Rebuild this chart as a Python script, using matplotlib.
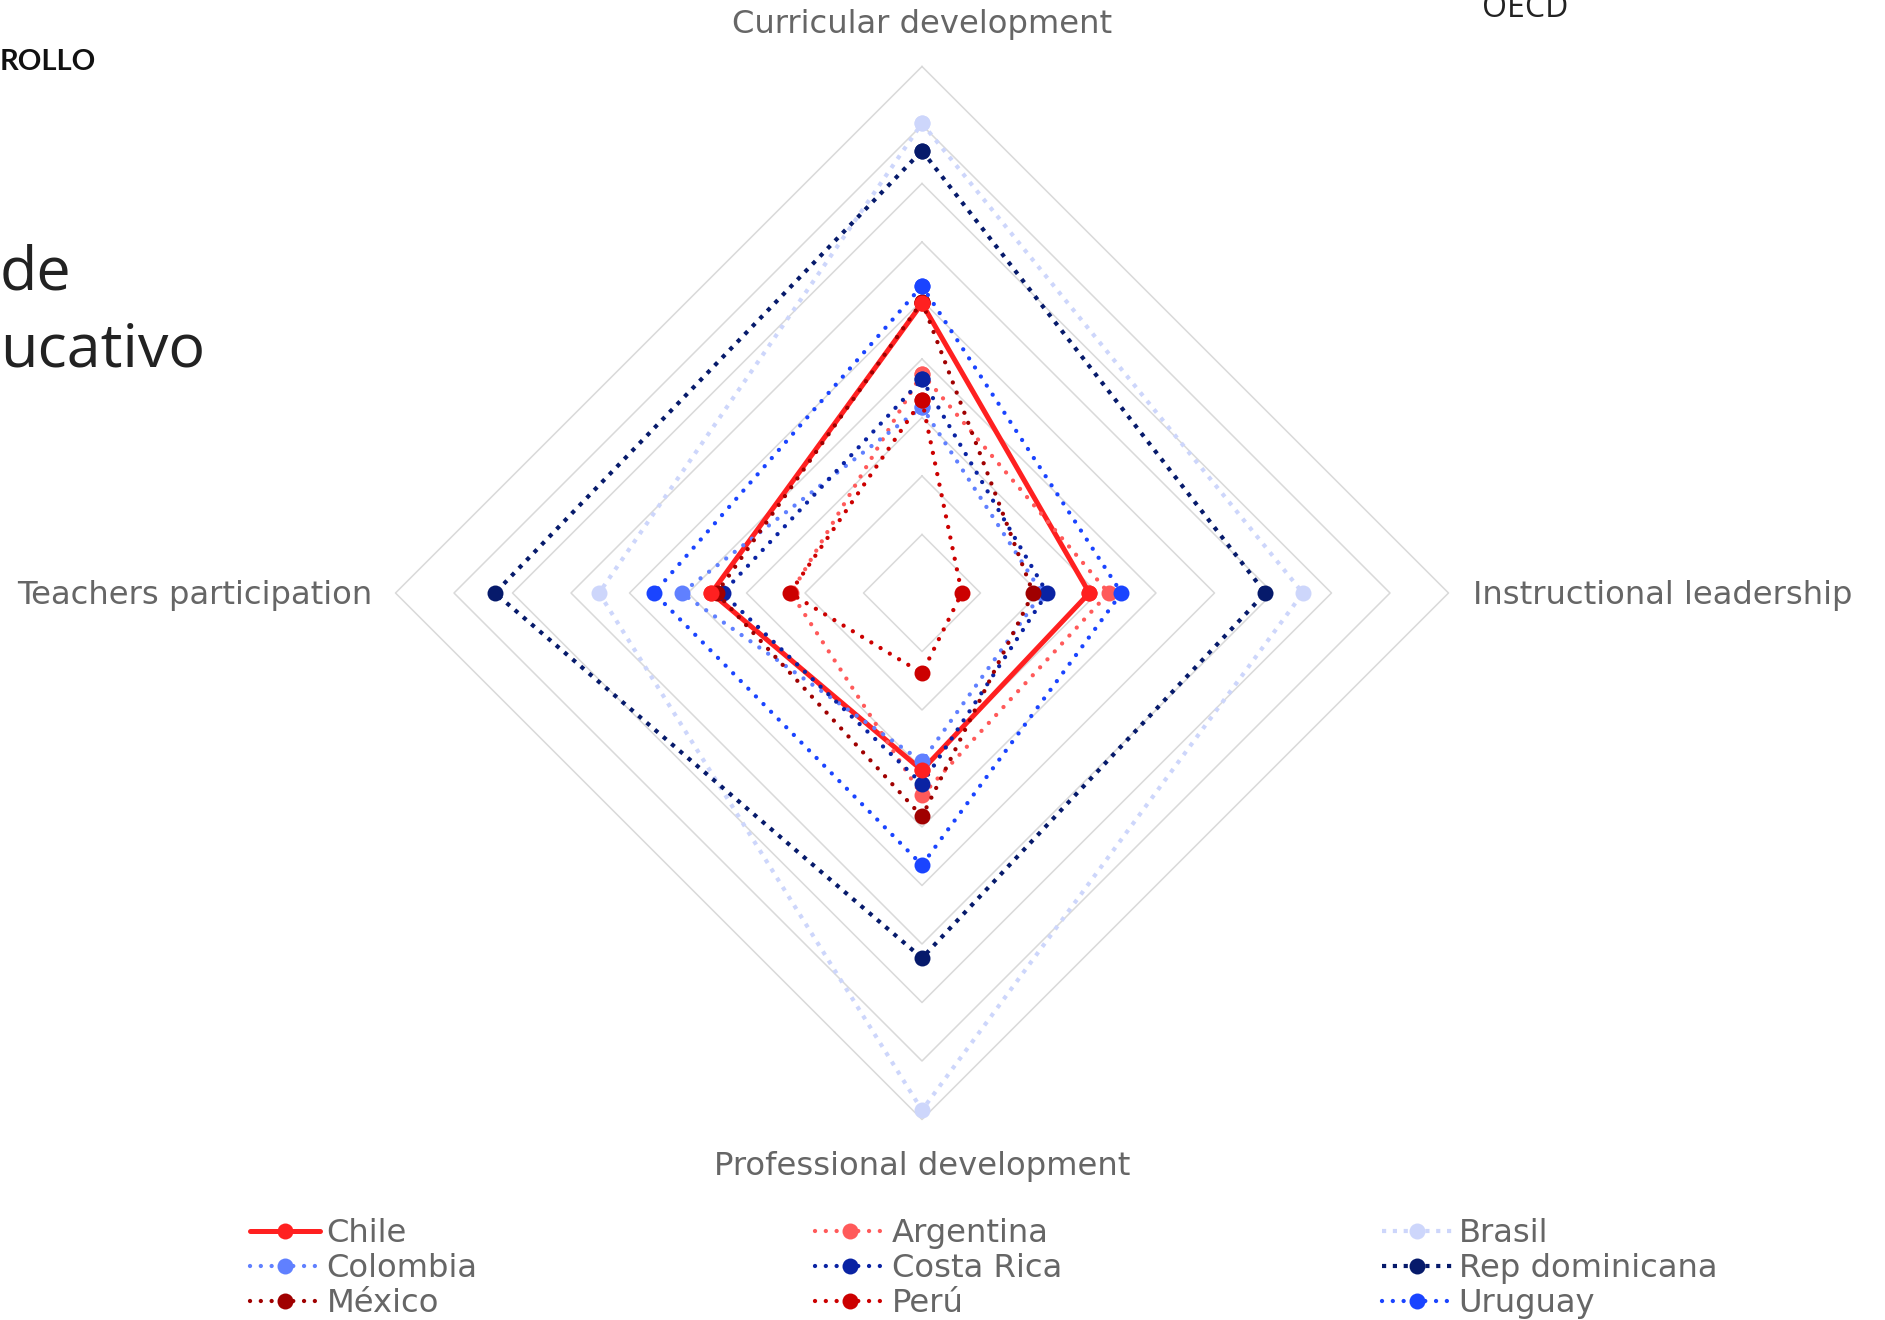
import numpy as np
import matplotlib.pyplot as plt

dimensions = ["Curricular development", "Instructional leadership",
              "Professional development", "Teachers participation"]
countries = ["Chile", "Argentina", "Brasil", "Colombia", "Costa Rica",
             "Rep dominicana", "México", "Perú", "Uruguay"]

# values per dimension, same order as `dimensions`
chile = [49.5, 28.6, 30.3, 36.0]
argentina = [37.5, 31.9, 34.6, 22.4]
brasil = [80.3, 65.1, 88.4, 55.2]
colombia = [31.8, 20.5, 28.8, 41.1]
costa_rica = [36.5, 21.4, 32.6, 34.1]
rep_dominicana = [75.6, 58.7, 62.4, 73.0]
mexico = [49.8, 19.0, 38.2, 35.1]
peru = [33.0, 6.8, 13.7, 22.6]
uruguay = [52.5, 34.1, 46.5, 45.8]
values = [chile, argentina, brasil, colombia, costa_rica,
          rep_dominicana, mexico, peru, uruguay]

colors = ["#ff2020", "#ff5a5a", "#cdd6fb", "#6080ff", "#0a23a3",
          "#061a6b", "#a00000", "#cc0000", "#1a44ff"]

grid_levels = [10, 20, 30, 40, 50, 60, 70, 80, 90]
angles = np.deg2rad([90, 0, -90, 180])

W, H = 1885, 1320
fig = plt.figure(figsize=(W / 100, H / 100), dpi=100)
ax = fig.add_axes([337 / W, 142 / H, 1170 / W, 1170 / H])
ax.set_xlim(-100, 100)
ax.set_ylim(-100, 100)
ax.set_aspect('equal')
ax.axis('off')

a_closed = np.append(angles, angles[0])
for lev in grid_levels:
    ax.plot(lev * np.cos(a_closed), lev * np.sin(a_closed),
            color='#d9d9d9', lw=1.1, zorder=1)

handles = []
for i in range(len(countries)):
    v = np.append(values[i], values[i][0])
    if countries[i] == "Chile":
        kw = dict(lw=3.6, ls='-', solid_capstyle='round')
    elif countries[i] in ("Brasil", "Rep dominicana"):
        kw = dict(lw=3.0, ls=(0, (1, 1.6)), dash_capstyle='butt')
    else:
        kw = dict(lw=3.1, ls=(0, (0.01, 2.5)), dash_capstyle='round')
    line, = ax.plot(v * np.cos(a_closed), v * np.sin(a_closed),
                    color=colors[i], marker='o', ms=11.5, mew=0,
                    zorder=2 + i, label=countries[i], **kw)
    handles.append(line)

# Chile points sit above the other series
ax.plot(np.array(chile) * np.cos(angles), np.array(chile) * np.sin(angles),
        ls='none', marker='o', ms=11.5, mew=0, color=colors[0], zorder=20)

lab_kw = dict(fontsize=23.2, color='#666666')
ax.text(0, 97.2, dimensions[0], ha='center', va='center', **lab_kw)
ax.text(94.2, -0.4, dimensions[1], ha='left', va='center', **lab_kw)
ax.text(0, -98.0, dimensions[2], ha='center', va='center', **lab_kw)
ax.text(-94.0, -0.4, dimensions[3], ha='right', va='center', **lab_kw)

col_x = [250, 815, 1382]
for c in range(3):
    hs = [handles[j] for j in range(c, len(handles), 3)]
    fig.legend(handles=hs, labels=[h.get_label() for h in hs],
               loc='upper left', bbox_to_anchor=(col_x[c] / W, 1 - 1218 / H),
               frameon=False, fontsize=23.2, labelcolor='#666666',
               handlelength=2.17, handletextpad=0.21, labelspacing=0.13,
               borderpad=0, borderaxespad=0, numpoints=1)

# cut-off page texts around the chart
fig.text(0.0, 1 - 70 / H, "ROLLO", fontsize=21, family='Lato', weight='bold',
         color='#111111', va='baseline')
fig.text(0.0, 1 - 290 / H, "de", fontsize=44, family='Open Sans',
         color='#222222', va='baseline')
fig.text(0.0, 1 - 366.7 / H, "ucativo", fontsize=44, family='Open Sans',
         color='#222222', va='baseline')
fig.text(1482 / W, 1 - 17 / H, "OECD", fontsize=23, family='Open Sans',
         color='#222222', va='baseline')

fig.savefig('out.png', dpi=100)
